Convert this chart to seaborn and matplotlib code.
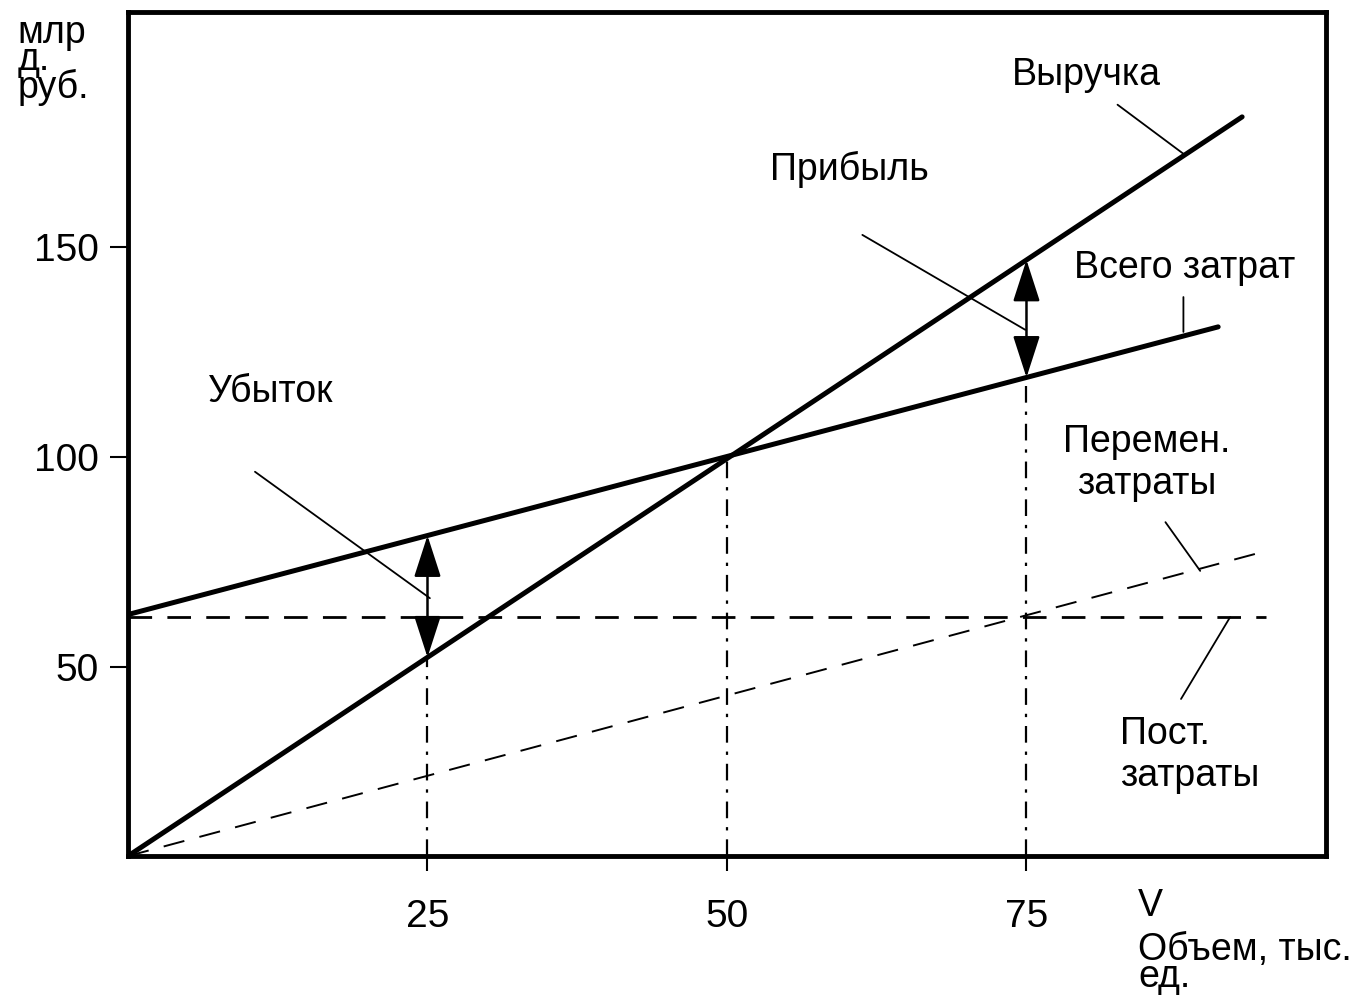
import numpy as np
import pandas as pd
import matplotlib
matplotlib.use("Agg")
import matplotlib.pyplot as plt
import seaborn as sns

# Объём выпуска (тыс. ед.) и суммы (млрд руб.) по каждой линии
volume_revenue = [0, 93]
revenue = [5, 181]

volume_total = [0, 91]
total_costs = [62.5, 131]

volume_fixed = [0, 95]
fixed_costs = [62, 62]

volume_variable = [0, 94.7]
variable_costs = [5, 77.4]

# Контрольные объёмы: убыток, безубыточность, прибыль
check_volumes = [25, 50, 75]
loss_volume = 25
profit_volume = 75

x_ticks = [25, 50, 75]
y_ticks = [50, 100, 150]

sns.set_theme(style="white")
plt.rcParams["font.family"] = ["Liberation Sans", "DejaVu Sans"]
plt.rcParams["text.color"] = "black"
plt.rcParams["xtick.color"] = "black"
plt.rcParams["ytick.color"] = "black"
FS = 27
TICK_FS = 28

fig = plt.figure(figsize=(13.66, 9.99), dpi=100)
ax = fig.add_axes([0.0937, 0.1431, 0.877, 0.845])

def rev_at(v):
    return float(np.interp(v, volume_revenue, revenue))

def tot_at(v):
    return float(np.interp(v, volume_total, total_costs))

# Основные линии
sns.lineplot(x=volume_revenue, y=revenue, ax=ax, color="black", lw=3.6, sort=False, estimator=None)
sns.lineplot(x=volume_total, y=total_costs, ax=ax, color="black", lw=3.6, sort=False, estimator=None)
sns.lineplot(x=volume_fixed, y=fixed_costs, ax=ax, color="black", lw=2.0, sort=False, estimator=None)
ax.lines[-1].set_linestyle((0, (8.5, 5.5)))
sns.lineplot(x=volume_variable, y=variable_costs, ax=ax, color="black", lw=1.4, sort=False, estimator=None)
ax.lines[-1].set_linestyle((0, (11, 8)))

# Вертикальные штрихпунктирные линии до графиков
tops = [rev_at(check_volumes[0]), rev_at(check_volumes[1]), tot_at(check_volumes[2])]
ax.vlines(check_volumes, 5, tops, colors="black", lw=1.6,
          linestyles=[(0, (7.5, 4, 1.5, 4))])

# Стрелки убытка и прибыли
arrow_style = "<|-|>,head_length=1.3,head_width=0.42"
ax.annotate("", xy=(loss_volume, rev_at(loss_volume)), xytext=(loss_volume, tot_at(loss_volume)),
            arrowprops=dict(arrowstyle=arrow_style, color="black", lw=1.8,
                            shrinkA=0, shrinkB=0, mutation_scale=20))
ax.annotate("", xy=(profit_volume, rev_at(profit_volume)), xytext=(profit_volume, tot_at(profit_volume)),
            arrowprops=dict(arrowstyle=arrow_style, color="black", lw=1.8,
                            shrinkA=0, shrinkB=0, mutation_scale=20))

# Подписи с выносками
leader = dict(arrowstyle="-", color="black", lw=1.3, shrinkA=0, shrinkB=0)
ax.annotate("", xy=(88.2, 172), xytext=(82.6, 183.9), arrowprops=leader)
ax.annotate("", xy=(74.9, 130.3), xytext=(61.3, 152.9), arrowprops=leader)
ax.annotate("", xy=(88.1, 129.8), xytext=(88.1, 138.1), arrowprops=leader)
ax.annotate("", xy=(25.2, 66.4), xytext=(10.6, 96.5), arrowprops=leader)
ax.annotate("", xy=(89.5, 72.9), xytext=(86.6, 84.5), arrowprops=leader)
ax.annotate("", xy=(87.9, 42.4), xytext=(92.0, 61.9), arrowprops=leader)

ax.text(73.8, 191, "Выручка", fontsize=FS, ha="left", va="center")
ax.text(53.6, 168.4, "Прибыль", fontsize=FS, ha="left", va="center")
ax.text(79.0, 145, "Всего затрат", fontsize=FS, ha="left", va="center")
ax.text(6.7, 115.5, "Убыток", fontsize=FS, ha="left", va="center")
ax.text(85.0, 98.6, "Перемен.\nзатраты", fontsize=FS, ha="center", va="center",
        multialignment="center", linespacing=1.2)
ax.text(82.8, 29, "Пост.\nзатраты", fontsize=FS, ha="left", va="center",
        multialignment="left", linespacing=1.2)

fig.text(0.013, 0.985, "млр\nд.\nруб.", fontsize=FS, ha="left", va="top", linespacing=0.68)
fig.text(0.833, 0.083, "V", fontsize=FS, ha="left", va="baseline")
fig.text(0.833, 0.004, "Объем, тыс.\nед.", fontsize=FS, ha="left", va="bottom", linespacing=0.68)

ax.set_xlim(0, 100)
ax.set_ylim(5, 206)
ax.set_xticks(x_ticks)
ax.set_yticks(y_ticks)
ax.set_xticklabels([str(t) for t in x_ticks], fontsize=TICK_FS)
ax.set_yticklabels([str(t) for t in y_ticks], fontsize=TICK_FS)
ax.tick_params(axis="x", bottom=True, direction="out", length=11, width=1.5, pad=20, colors="black")
ax.tick_params(axis="y", left=True, direction="out", length=13, width=1.5, pad=8, colors="black")
ax.set_xlabel("")
ax.set_ylabel("")
for s in ax.spines.values():
    s.set_visible(True)
    s.set_color("black")
    s.set_linewidth(3.5)
ax.grid(False)

fig.savefig("out.png", dpi=100)
